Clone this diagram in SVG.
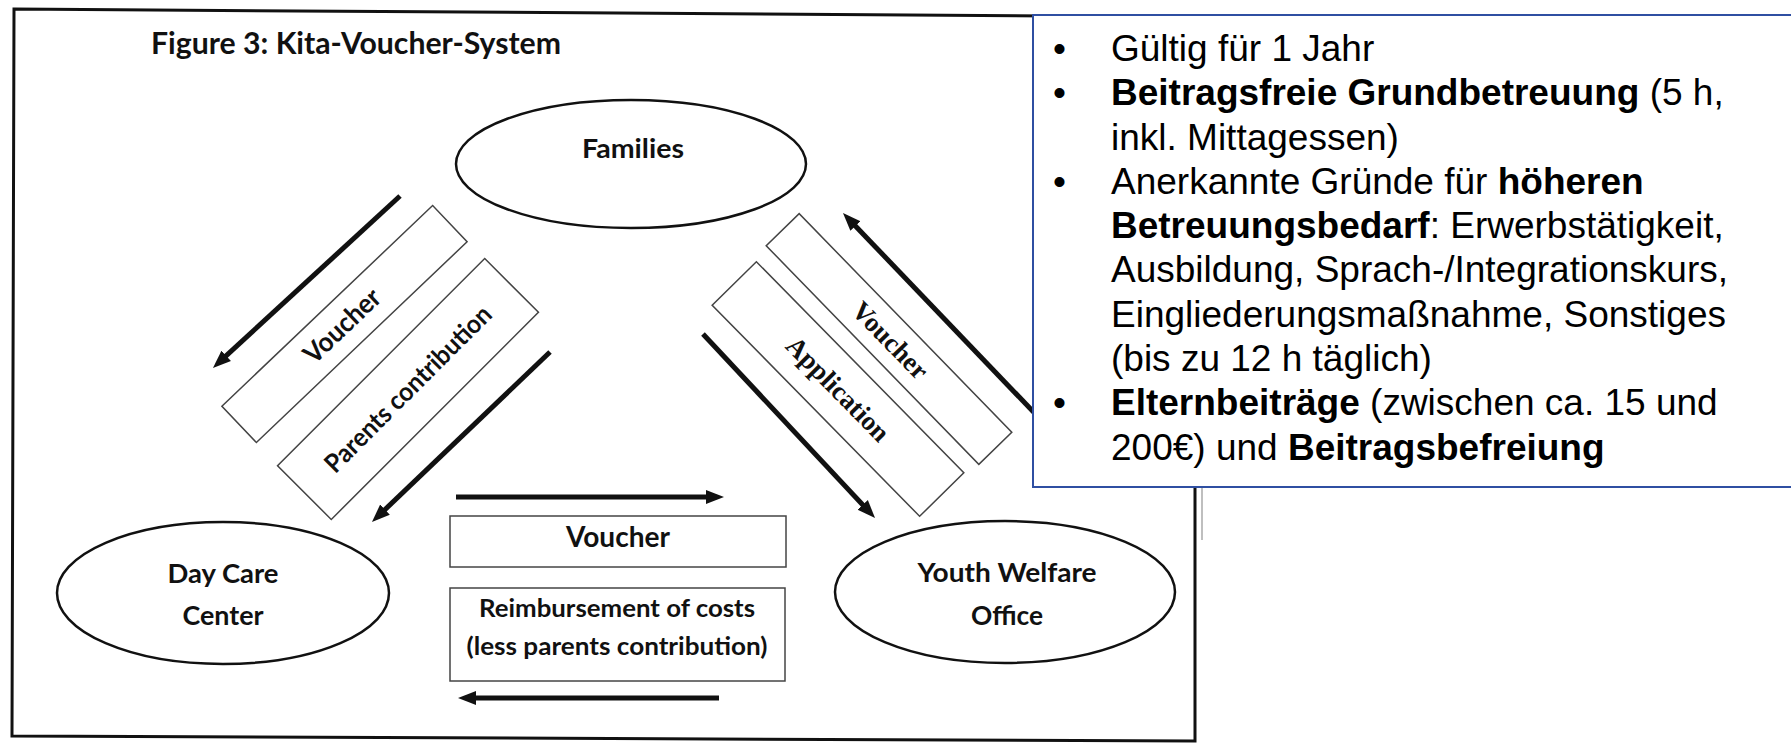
<svg xmlns="http://www.w3.org/2000/svg" width="1791" height="744" viewBox="0 0 1791 744">
<style>
.frame{fill:none;stroke:#111;stroke-width:3}
.node{fill:#fff;stroke:#111;stroke-width:2.5}
.lbl{font-family:Lato,"Liberation Sans",sans-serif;font-weight:700;fill:#111;text-anchor:middle}
.box{fill:#fff;stroke:#444;stroke-width:1.5}
.serif{font-family:"Liberation Serif",serif;font-weight:700;fill:#111;text-anchor:middle}
.arr{stroke:#111;stroke-width:5;fill:none;marker-end:url(#ah)}
.note{fill:#fff;stroke:#2F4FA2;stroke-width:2}
.nt{font-family:"Liberation Sans",Arial,sans-serif;font-size:37px;fill:#000}
.b{font-weight:700}
</style>
<defs>
<marker id="ah" markerUnits="userSpaceOnUse" markerWidth="24" markerHeight="16" refX="8" refY="8" orient="auto" viewBox="0 0 24 16">
<path d="M0,1 L18,8 L0,15 Z" fill="#111"/>
</marker>
</defs>
<rect width="1791" height="744" fill="#fff"/>
<g id="frame">
<path class="frame" d="M14,9 L1195,17 L1195,741 L12,736 Z"/>
<line x1="1202" y1="486" x2="1202" y2="540" stroke="#aaa" stroke-width="1.5"/>
<text class="lbl" x="356" y="54" font-size="30" textLength="410" lengthAdjust="spacingAndGlyphs">Figure 3: Kita-Voucher-System</text>
</g>
<g id="families">
<ellipse class="node" cx="631" cy="164" rx="175" ry="64"/>
<text class="lbl" x="633" y="158" font-size="26" textLength="102" lengthAdjust="spacingAndGlyphs">Families</text>
</g>
<g id="daycare">
<ellipse class="node" cx="223" cy="593" rx="166" ry="71"/>
<text class="lbl" x="223" y="583" font-size="27" textLength="111" lengthAdjust="spacingAndGlyphs">Day Care</text>
<text class="lbl" x="223" y="625" font-size="27" textLength="81" lengthAdjust="spacingAndGlyphs">Center</text>
</g>
<g id="youthwelfare">
<ellipse class="node" cx="1005" cy="592" rx="170" ry="71"/>
<text class="lbl" x="1007" y="582" font-size="27" textLength="179" lengthAdjust="spacingAndGlyphs">Youth Welfare</text>
<text class="lbl" x="1007" y="625" font-size="27" textLength="72" lengthAdjust="spacingAndGlyphs">Office</text>
</g>
<g id="connectors">
<line class="arr" x1="400" y1="196" x2="220.3" y2="361.2"/>
<line class="arr" x1="550" y1="352" x2="379.2" y2="515.1"/>
<line class="arr" x1="1045" y1="424" x2="849.9" y2="220.2"/>
<line class="arr" x1="703" y1="334" x2="868.2" y2="510.7"/>
<line class="arr" x1="456" y1="497" x2="714" y2="497"/>
<line class="arr" x1="719" y1="698" x2="468" y2="698"/>
<g transform="translate(344.5,324) rotate(-43.6)">
<rect class="box" x="-145.5" y="-25" width="291" height="50"/>
<text class="lbl" x="-3" y="9" font-size="27" textLength="95" lengthAdjust="spacingAndGlyphs">Voucher</text>
</g>
<g transform="translate(408,389) rotate(-45)">
<rect class="box" x="-146.5" y="-38" width="293" height="76"/>
<text class="lbl" x="0" y="9" font-size="26" textLength="224" lengthAdjust="spacingAndGlyphs">Parents contribution</text>
</g>
<g transform="translate(889,339) rotate(45.8)">
<rect class="box" x="-152.5" y="-23" width="305" height="46"/>
<text class="serif" x="2" y="9" font-size="27">Voucher</text>
</g>
<g transform="translate(838,389) rotate(45.5)">
<rect class="box" x="-148" y="-31" width="296" height="62"/>
<text class="serif" x="0" y="9" font-size="27">Application</text>
</g>
<rect class="box" x="450" y="516" width="336" height="51"/>
<text class="lbl" x="618" y="547" font-size="28" textLength="104" lengthAdjust="spacingAndGlyphs">Voucher</text>
<rect class="box" x="450" y="588" width="335" height="93"/>
<text class="lbl" x="617" y="617" font-size="25" textLength="276" lengthAdjust="spacingAndGlyphs">Reimbursement of costs</text>
<text class="lbl" x="617" y="655" font-size="25" textLength="301" lengthAdjust="spacingAndGlyphs">(less parents contribution)</text>
</g>
<g id="notes">
<rect class="note" x="1033" y="15" width="770" height="472"/>
<text class="nt" x="1053" y="61">•</text>
<text class="nt" x="1053" y="105">•</text>
<text class="nt" x="1053" y="194">•</text>
<text class="nt" x="1053" y="415">•</text>
<text class="nt" x="1111" y="61">Gültig für 1 Jahr</text>
<text class="nt" x="1111" y="105"><tspan class="b">Beitragsfreie Grundbetreuung</tspan> (5 h,</text>
<text class="nt" x="1111" y="150">inkl. Mittagessen)</text>
<text class="nt" x="1111" y="194">Anerkannte Gründe für <tspan class="b">höheren</tspan></text>
<text class="nt" x="1111" y="238"><tspan class="b">Betreuungsbedarf</tspan>: Erwerbstätigkeit,</text>
<text class="nt" x="1111" y="282">Ausbildung, Sprach-/Integrationskurs,</text>
<text class="nt" x="1111" y="327">Eingliederungsmaßnahme, Sonstiges</text>
<text class="nt" x="1111" y="371">(bis zu 12 h täglich)</text>
<text class="nt" x="1111" y="415"><tspan class="b">Elternbeiträge</tspan> (zwischen ca. 15 und</text>
<text class="nt" x="1111" y="460">200€) und <tspan class="b">Beitragsbefreiung</tspan></text>
</g>
</svg>
